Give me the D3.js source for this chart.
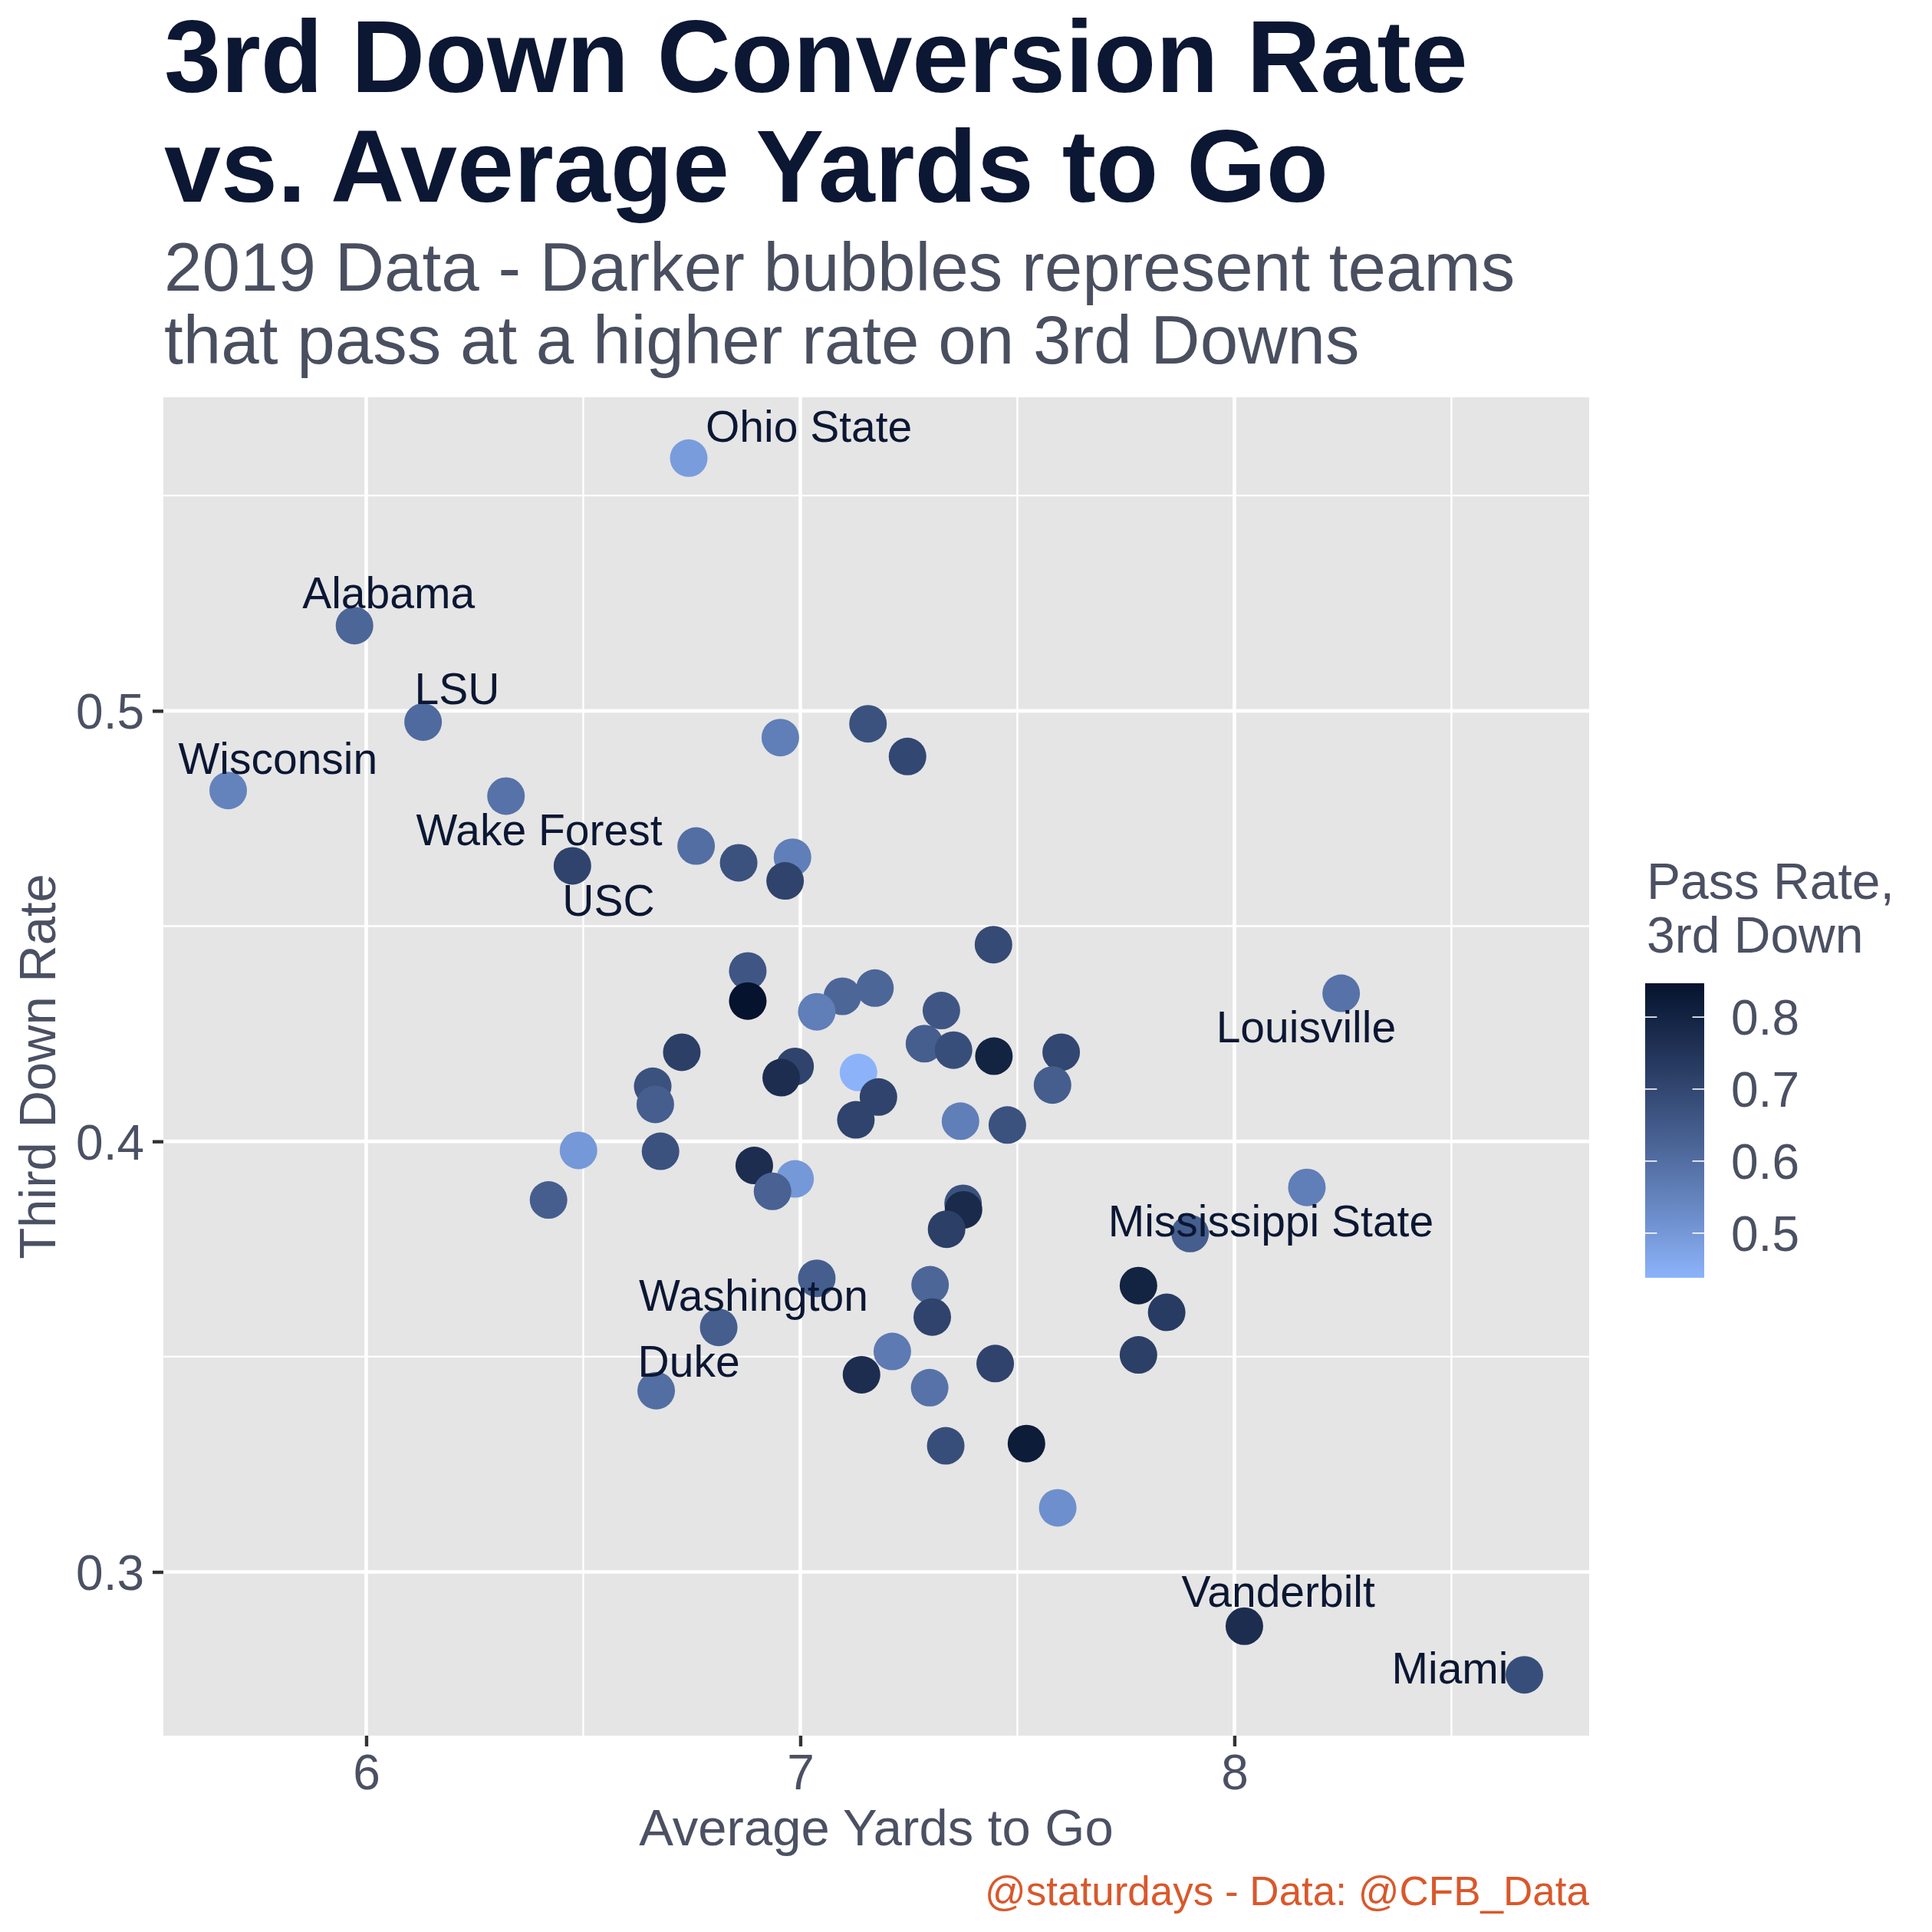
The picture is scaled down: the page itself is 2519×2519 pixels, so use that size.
<!DOCTYPE html>
<html>
<head>
<meta charset="utf-8">
<script src="https://cdn.jsdelivr.net/npm/d3@7"></script>
<style>
  body { margin: 0; background: #fff; }
  text { font-family: "Liberation Sans", Arial, Helvetica, sans-serif; }
</style>
</head>
<body>
<div id="chart"></div>
<script>
// ---- data (one entry per team) ----
const team = ["Ohio State", "Alabama", "LSU", "Wisconsin", "", "USC", "Wake Forest", "", "", "",
              "", "", "", "", "", "", "", "", "", "",
              "", "Louisville", "", "", "", "", "", "", "", "",
              "", "", "", "", "", "", "", "", "", "",
              "Washington", "Duke", "", "", "", "", "", "Mississippi State", "", "",
              "", "", "", "", "", "", "", "", "", "",
              "", "", "Vanderbilt", "Miami"];
const avgYards = [6.743, 5.973, 6.131, 5.682, 6.322, 6.475, 6.760, 6.858, 6.982, 6.965,
                  6.954, 7.156, 6.879, 6.879, 7.097, 7.038, 7.172, 6.727, 7.247, 7.445,
                  7.325, 8.246, 7.286, 7.353, 7.446, 7.601, 6.489, 6.420, 6.678, 6.660,
                  6.666, 6.894, 6.988, 6.936, 6.988, 6.956, 7.134, 7.128, 7.180, 7.038,
                  6.812, 6.668, 7.141, 7.581, 7.369, 7.477, 8.167, 7.898, 7.375, 7.376,
                  7.337, 7.299, 7.304, 7.212, 7.298, 7.449, 7.779, 7.844, 7.779, 7.335,
                  7.521, 7.593, 8.023, 8.668];
const thirdRate = [0.5587, 0.5198, 0.4974, 0.4815, 0.4802, 0.4640, 0.4686, 0.4647, 0.4660, 0.4605,
                   0.4938, 0.4970, 0.4396, 0.4326, 0.4337, 0.4301, 0.4356, 0.4207, 0.4894, 0.4457,
                   0.4304, 0.4344, 0.4227, 0.4212, 0.4198, 0.4207, 0.3979, 0.3864, 0.3977, 0.4128,
                   0.4086, 0.3944, 0.3913, 0.3884, 0.4174, 0.4148, 0.4160, 0.4050, 0.4103, 0.3682,
                   0.3568, 0.3421, 0.3458, 0.4131, 0.4047, 0.4038, 0.3893, 0.3786, 0.3856, 0.3841,
                   0.3796, 0.3667, 0.3592, 0.3512, 0.3428, 0.3484, 0.3665, 0.3603, 0.3504, 0.3293,
                   0.3298, 0.3149, 0.2874, 0.2761];
const passRate = [0.49, 0.62, 0.61, 0.55, 0.59, 0.71, 0.60, 0.67, 0.56, 0.71,
                  0.56, 0.67, 0.66, 0.847, 0.62, 0.56, 0.62, 0.72, 0.70, 0.69,
                  0.66, 0.59, 0.64, 0.68, 0.80, 0.70, 0.50, 0.64, 0.67, 0.67,
                  0.64, 0.77, 0.50, 0.63, 0.71, 0.77, 0.438, 0.71, 0.71, 0.64,
                  0.64, 0.60, 0.77, 0.64, 0.56, 0.67, 0.56, 0.64, 0.67, 0.78,
                  0.72, 0.62, 0.71, 0.57, 0.59, 0.71, 0.80, 0.73, 0.72, 0.68,
                  0.82, 0.52, 0.77, 0.68];

const xTicks = [6, 7, 8];
const yTicks = [0.3, 0.4, 0.5];
const legendTicks = [0.5, 0.6, 0.7, 0.8];

// label placement (pixel offset of the text start / baseline from its point)
const labelNudge = {
  "Ohio State": [22, -21], "Alabama": [-68, -23], "LSU": [-11, -23], "Wisconsin": [-65, -22],
  "Wake Forest": [-365, -1], "USC": [-13, 65], "Louisville": [-163, 64], "Washington": [-104, -22],
  "Duke": [-24, -18], "Mississippi State": [-107, 4], "Vanderbilt": [-82, -25], "Miami": [-173, 11]
};

const W = 2519, H = 2519;
const panel = { left: 213, right: 2072, top: 518, bottom: 2263 };
const navy = "#0b1733", slate = "#4b5063";

const points = team.map((t, i) => ({ team: t, x: avgYards[i], y: thirdRate[i], p: passRate[i] }));

// ggplot style 5% expansion of the data range
const expand = ext => { const d = (ext[1] - ext[0]) * 0.05; return [ext[0] - d, ext[1] + d]; };

const x = d3.scaleLinear().domain(expand(d3.extent(avgYards))).range([panel.left, panel.right]);
const y = d3.scaleLinear().domain(expand(d3.extent(thirdRate))).range([panel.bottom, panel.top]);
const color = d3.scaleLinear().domain(d3.extent(passRate))
                .range(["#8cb3fa", "#06132e"]).interpolate(d3.interpolateLab);

const svg = d3.select("#chart").append("svg")
              .attr("width", W).attr("height", H)
              .attr("viewBox", `0 0 ${W} ${H}`);

svg.append("rect").attr("width", W).attr("height", H).attr("fill", "#fff");

// titles
const title = svg.append("text").attr("font-weight", "bold").attr("font-size", 133).attr("fill", navy);
title.append("tspan").attr("x", 214).attr("y", 120).text("3rd Down Conversion Rate");
title.append("tspan").attr("x", 214).attr("y", 263).text("vs. Average Yards to Go");

const sub = svg.append("text").attr("font-size", 89).attr("fill", "#4a4f60");
sub.append("tspan").attr("x", 214).attr("y", 379).text("2019 Data - Darker bubbles represent teams");
sub.append("tspan").attr("x", 214).attr("y", 474).text("that pass at a higher rate on 3rd Downs");

// panel + grid
svg.append("rect")
   .attr("x", panel.left).attr("y", panel.top)
   .attr("width", panel.right - panel.left).attr("height", panel.bottom - panel.top)
   .attr("fill", "#e5e5e5");

const grid = svg.append("g").attr("stroke", "#fff");
const xMinor = d3.range(5.5, 9, 1).filter(v => v > x.domain()[0] && v < x.domain()[1]);
const yMinor = [0.25, 0.35, 0.45, 0.55].filter(v => v > y.domain()[0] && v < y.domain()[1]);

grid.selectAll(".xminor").data(xMinor).join("line")
    .attr("x1", d => x(d)).attr("x2", d => x(d))
    .attr("y1", panel.top).attr("y2", panel.bottom).attr("stroke-width", 2.4);
grid.selectAll(".yminor").data(yMinor).join("line")
    .attr("y1", d => y(d)).attr("y2", d => y(d))
    .attr("x1", panel.left).attr("x2", panel.right).attr("stroke-width", 2.4);
grid.selectAll(".xmajor").data(xTicks).join("line")
    .attr("x1", d => x(d)).attr("x2", d => x(d))
    .attr("y1", panel.top).attr("y2", panel.bottom).attr("stroke-width", 4.6);
grid.selectAll(".ymajor").data(yTicks).join("line")
    .attr("y1", d => y(d)).attr("y2", d => y(d))
    .attr("x1", panel.left).attr("x2", panel.right).attr("stroke-width", 4.6);

// axes
const xAxis = d3.axisBottom(x).tickValues(xTicks).tickSize(14).tickPadding(10).tickFormat(d3.format("d"));
const yAxis = d3.axisLeft(y).tickValues(yTicks).tickSize(14).tickPadding(11).tickFormat(d3.format(".1f"));

const gx = svg.append("g").attr("transform", `translate(0,${panel.bottom})`).call(xAxis);
const gy = svg.append("g").attr("transform", `translate(${panel.left},0)`).call(yAxis);
[gx, gy].forEach(g => {
  g.select(".domain").remove();
  g.selectAll(".tick line").attr("stroke", "#333").attr("stroke-width", 4.4);
  g.selectAll(".tick text").attr("fill", slate).attr("font-size", 64)
   .attr("font-family", "'Liberation Sans', Arial, sans-serif");
});
gx.selectAll(".tick text").attr("dy", null).attr("y", 70);
gy.selectAll(".tick text").attr("dy", "0.36em");

svg.append("text").attr("x", (panel.left + panel.right) / 2).attr("y", 2406)
   .attr("text-anchor", "middle").attr("font-size", 67).attr("fill", slate)
   .text("Average Yards to Go");
svg.append("text").attr("transform", `translate(72,${(panel.top + panel.bottom) / 2}) rotate(-90)`)
   .attr("text-anchor", "middle").attr("font-size", 67).attr("fill", slate)
   .text("Third Down Rate");

// points
svg.append("g").selectAll("circle").data(points).join("circle")
   .attr("cx", d => x(d.x)).attr("cy", d => y(d.y)).attr("r", 24.5)
   .attr("fill", d => color(d.p));

// team labels
svg.append("g").selectAll("text").data(points.filter(d => d.team)).join("text")
   .attr("x", d => x(d.x) + labelNudge[d.team][0])
   .attr("y", d => y(d.y) + labelNudge[d.team][1])
   .attr("font-size", 57).attr("fill", navy)
   .text(d => d.team);

// colour bar legend
const bar = { x: 2145, w: 77, top: 1282, bottom: 1666 };
const legendY = d3.scaleLinear().domain(color.domain()).range([bar.bottom, bar.top]);

const grad = svg.append("defs").append("linearGradient")
                .attr("id", "passGrad").attr("x1", 0).attr("x2", 0).attr("y1", 1).attr("y2", 0);
grad.selectAll("stop").data(d3.range(0, 1.0001, 0.05)).join("stop")
    .attr("offset", d => d)
    .attr("stop-color", d => color(color.domain()[0] + d * (color.domain()[1] - color.domain()[0])));

svg.append("rect").attr("x", bar.x).attr("y", bar.top)
   .attr("width", bar.w).attr("height", bar.bottom - bar.top)
   .attr("fill", "url(#passGrad)");

const lt = svg.append("g");
lt.selectAll(".l").data(legendTicks).join("line")
  .attr("x1", bar.x).attr("x2", bar.x + bar.w / 5)
  .attr("y1", d => legendY(d)).attr("y2", d => legendY(d))
  .attr("stroke", "#fff").attr("stroke-width", 1.6);
lt.selectAll(".r").data(legendTicks).join("line")
  .attr("x1", bar.x + bar.w * 4 / 5).attr("x2", bar.x + bar.w)
  .attr("y1", d => legendY(d)).attr("y2", d => legendY(d))
  .attr("stroke", "#fff").attr("stroke-width", 1.6);
svg.append("g").selectAll("text").data(legendTicks).join("text")
   .attr("x", 2257).attr("y", d => legendY(d)).attr("dy", "0.36em")
   .attr("font-size", 64).attr("fill", slate)
   .text(d3.format(".1f"));

const lTitle = svg.append("text").attr("font-size", 66).attr("fill", slate);
lTitle.append("tspan").attr("x", 2147).attr("y", 1172).text("Pass Rate,");
lTitle.append("tspan").attr("x", 2147).attr("y", 1242).text("3rd Down");

// caption
svg.append("text").attr("x", panel.right).attr("y", 2484).attr("text-anchor", "end")
   .attr("font-size", 53).attr("fill", "#d9582b")
   .text("@staturdays - Data: @CFB_Data");
</script>
</body>
</html>
